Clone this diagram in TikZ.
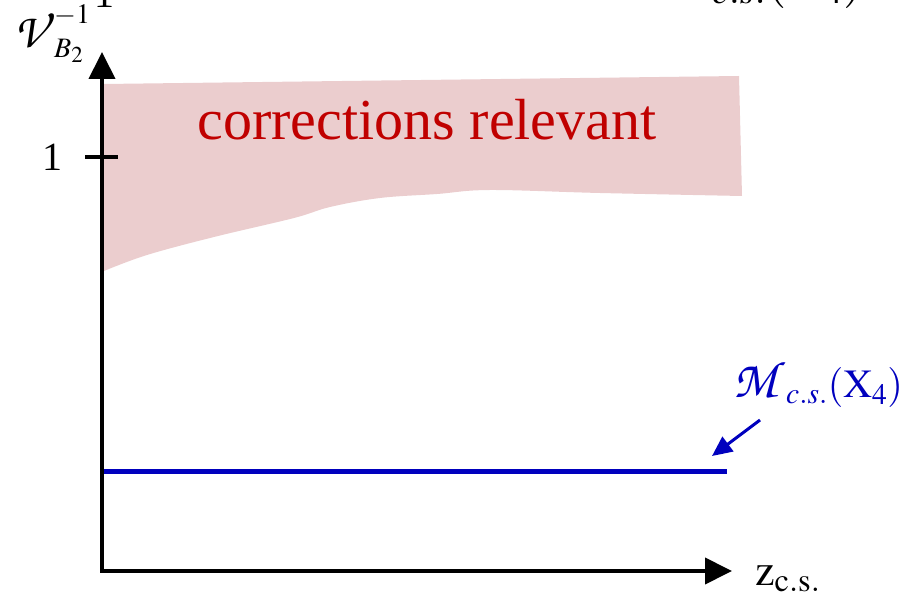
\documentclass[tikz,border=0pt]{standalone}
\usepackage{mathptmx}
\usepackage{fontspec}
\setmainfont{Liberation Serif}
\usetikzlibrary{arrows.meta}
\DeclareMathAlphabet{\mathzc}{OT1}{pzc}{m}{it}
\newcommand{\bigscr}[1]{\mbox{\scalebox{1.3}{$\mathzc{#1}$}}}
\definecolor{regfill}{RGB}{235,205,206}
\definecolor{regtext}{RGB}{192,0,0}
\definecolor{curveblue}{RGB}{0,0,190}
\begin{document}
\begin{tikzpicture}[x=1pt,y=-1pt,
  axis/.style={line width=4pt,-{Triangle[length=27pt,width=26pt]}},
  lbl/.style={inner sep=0pt,anchor=base west}]
\useasboundingbox (0,0) rectangle (903,601);
% shaded region
\fill[regfill] (104,84) -- (739,76) -- (742,196) -- plot[smooth,tension=0.6] coordinates
  {(742,196) (600,193) (490,190) (437,194) (380,198) (330,207) (294,218) (214,237) (147,255) (104,271)} -- cycle;
\node[lbl,anchor=base,text=regtext,font=\fontsize{58}{60}\selectfont] (reg) at (427,140) {corrections relevant};
% cut-off labels at the top
\node[lbl,anchor=base,font=\fontsize{40}{48}\selectfont] (topone) at (104,8) {1};
\node[lbl,font=\fontsize{52}{60}\selectfont] (toplbl) at (643,-4) {$\bigscr{M}_{c.s.}(\mathrm{X}_4)$};
% axes
\coordinate (O) at (102,571);
\coordinate (ytip) at (102,52);
\coordinate (xtip) at (732,571);
\draw[axis,line cap=rect] (O) -- (ytip);
\draw[axis,line cap=rect] (O) -- (xtip);
% tick
\coordinate (tl) at (85,157);
\coordinate (tr) at (118,157);
\draw[line width=4pt] (tl) -- (tr);
\node[font=\fontsize{40}{48}\selectfont] (one) at (52,157) {1};
% axis labels
\node[lbl,font=\fontsize{38}{48}\selectfont] (ylab) at (14,48) {$\bigscr{V}^{-1}_{B_2}$};
\node[lbl,font=\fontsize{44}{48}\selectfont] (xlab) at (755,585) {$\mathrm{z}_{\mathrm{c.s.}}$};
% blue line
\coordinate (bl) at (104,472);
\coordinate (br) at (727,472);
\draw[curveblue,line width=5pt] (bl) -- (br);
\node[lbl,text=curveblue,font=\fontsize{40}{48}\selectfont] (mlab) at (733,398) {$\bigscr{M}_{c.s.}(\mathrm{X}_4)$};
\coordinate (as) at (760,420);
\coordinate (ae) at (712,456);
\draw[curveblue,line width=3pt,-{Triangle[length=20pt,width=18pt]}] (as) -- (ae);
\end{tikzpicture}
\end{document}
